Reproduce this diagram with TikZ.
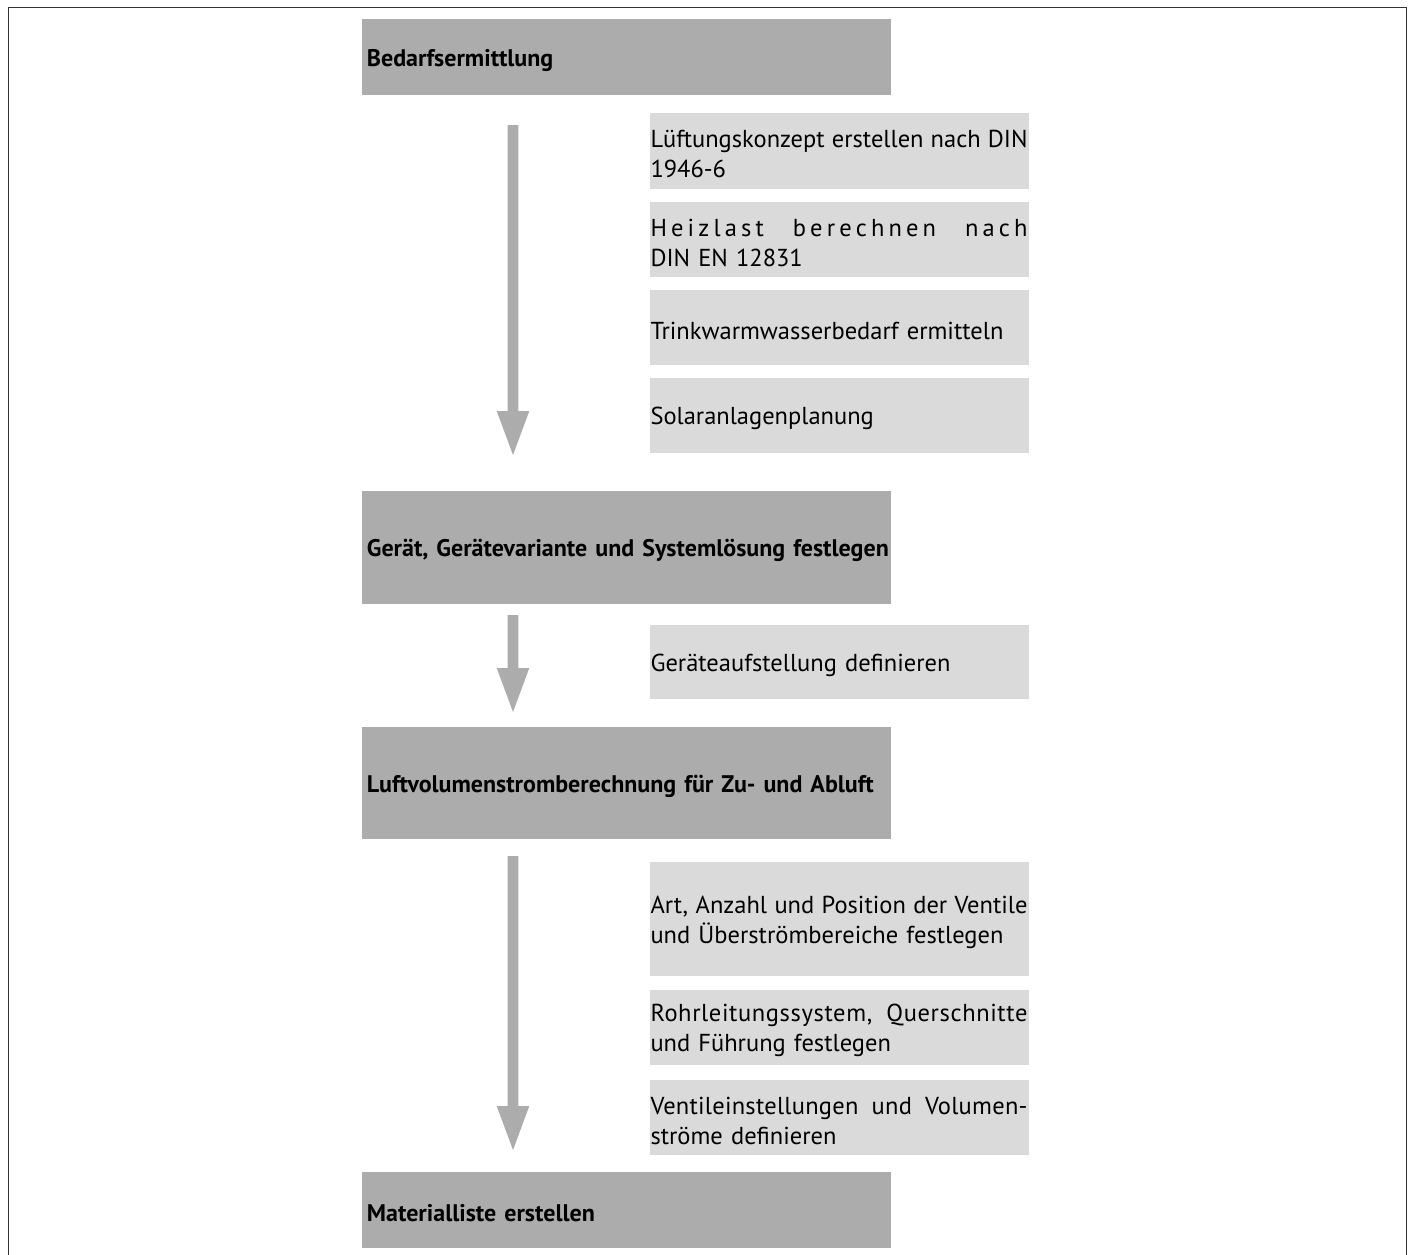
\documentclass[tikz,border=0pt]{standalone}
\usepackage{fontspec}
\setmainfont{PT Sans}
\definecolor{maingray}{HTML}{ABACAB}
\definecolor{subgray}{HTML}{DADADA}
\definecolor{framegray}{HTML}{333333}
\newcommand{\jline}[1]{\hbox to 377pt{\spaceskip=0.27em plus 1fil minus 0.09em\relax #1}}
\newcommand{\lowtxt}[1]{\raisebox{-3pt}[\height][\depth]{#1}}
\newcommand{\flowarrow}[3]{%
  \fill[maingray] (#1-5.3,#2) -- (#1+5.3,#2) -- (#1+5.3,#3-44) -- (#1+16.3,#3-44)
    -- (#1,#3) -- (#1-16.3,#3-44) -- (#1-5.3,#3-44) -- cycle;}
\begin{document}
\begin{tikzpicture}[x=1pt,y=-1pt,
  mainbox/.style={fill=maingray, anchor=north west, inner xsep=5pt, inner ysep=0pt,
    text width=519.5pt, align=left, minimum height=#1,
    font=\fontsize{24}{29}\selectfont\bfseries},
  subbox/.style={fill=subgray, anchor=north west, inner xsep=1pt, inner ysep=0pt,
    text width=377pt, align=left, minimum height=#1,
    font=\fontsize{24.5}{30}\selectfont}]
\useasboundingbox (0,0) rectangle (1413,1254);
\draw[framegray, line width=1.2pt] (8.5,1260) -- (8.5,7.8) -- (1406.7,7.8) -- (1406.7,1260);

\node[mainbox=76pt] (m1) at (361.7,19) {\lowtxt{Bedarfsermittlung}};
\node[subbox=76pt] (s1) at (649.3,113) {\lowtxt{\jline{Lüftungskonzept erstellen nach DIN}}\\\lowtxt{1946-6}};
\node[subbox=75pt] (s2) at (649.3,202) {\lowtxt{\hbox to 377pt{H\hfil e\hfil i\hfil z\hfil l\hfil a\hfil s\hfil t\hfil\hfil\hfil\hfil\hfil\ b\hfil e\hfil r\hfil e\hfil c\hfil h\hfil n\hfil e\hfil n\hfil\hfil\hfil\hfil\hfil\ n\hfil a\hfil c\hfil h}}\\\lowtxt{DIN EN 12831}};
\node[subbox=75pt] (s3) at (649.3,290) {\lowtxt{Trinkwarmwasserbedarf ermitteln}};
\node[subbox=75pt] (s4) at (649.3,378) {\lowtxt{Solaranlagenplanung}};

\node[mainbox=113pt] (m2) at (361.7,491) {\lowtxt{\mbox{Gerät, Gerätevariante und Systemlösung festlegen}}};
\node[subbox=74pt] (s5) at (649.3,625) {\lowtxt{Geräteaufstellung definieren}};

\node[mainbox=112pt] (m3) at (361.7,727) {\lowtxt{\mbox{Luftvolumenstromberechnung für Zu- und Abluft}}};
\node[subbox=114pt] (s6) at (649.3,862) {\lowtxt{\jline{Art, Anzahl und Position der Ventile}}\\\lowtxt{und Überströmbereiche festlegen}};
\node[subbox=75pt] (s7) at (649.3,990) {\lowtxt{\jline{\addfontfeature{LetterSpace=2.5}Rohrleitungssystem, Querschnitte}}\\\lowtxt{und Führung festlegen}};
\node[subbox=75pt] (s8) at (649.3,1080) {\lowtxt{\jline{\addfontfeature{LetterSpace=1}Ventileinstellungen und Volumen-}}\\\lowtxt{ströme definieren}};

\node[mainbox=76pt] (m4) at (361.7,1172) {\lowtxt{Materialliste erstellen}};

\flowarrow{513}{125}{455}
\flowarrow{513}{615}{712}
\flowarrow{513}{856}{1150}
\end{tikzpicture}
\end{document}
